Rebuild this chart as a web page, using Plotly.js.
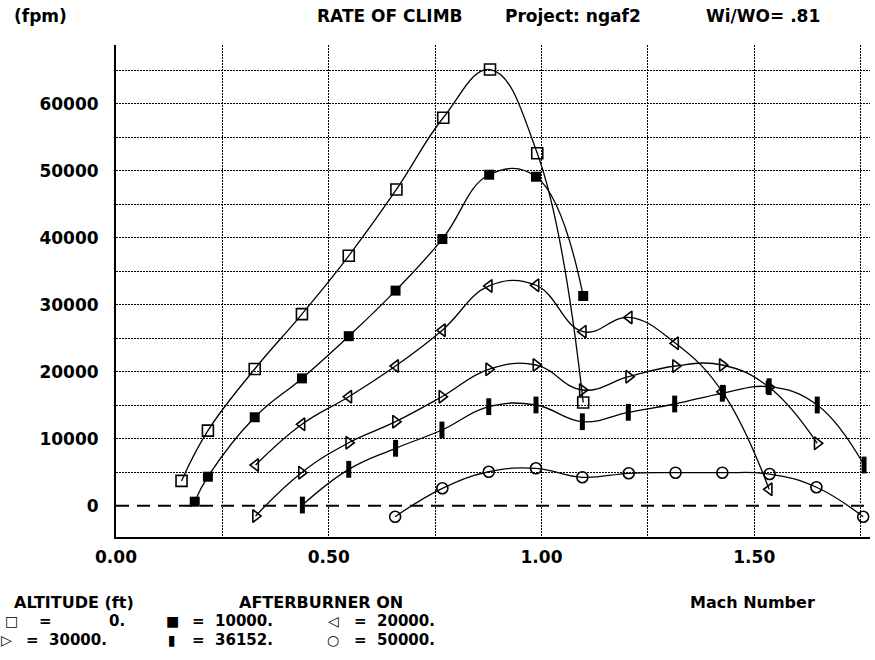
<!DOCTYPE html>
<html><head><meta charset="utf-8">
<script src="https://cdn.plot.ly/plotly-3.0.1.min.js"></script>
<style>html,body{margin:0;padding:0;background:#fff}#chart{width:875px;height:660px}</style>
</head><body><div id="chart"></div>
<script>
// ---- data (Mach number vs rate of climb, fpm) ----
const mach0     = [0.154, 0.216, 0.326, 0.437, 0.547, 0.659, 0.769, 0.879, 0.990, 1.098];
const roc0      = [3700, 11200, 20400, 28600, 37300, 47200, 57900, 65100, 52600, 15400];
const mach10000 = [0.185, 0.216, 0.326, 0.437, 0.547, 0.657, 0.767, 0.877, 0.987, 1.098];
const roc10000  = [600, 4330, 13200, 19000, 25300, 32100, 39800, 49400, 49100, 31300];
const mach20000 = [0.328, 0.437, 0.547, 0.657, 0.767, 0.877, 0.987, 1.098, 1.206, 1.315, 1.425, 1.535];
const roc20000  = [6070, 12150, 16270, 20850, 26200, 32800, 32900, 25970, 28100, 24240, 17000, 2450];
const mach30000 = [0.328, 0.436, 0.547, 0.657, 0.766, 0.876, 0.987, 1.096, 1.205, 1.315, 1.425, 1.535, 1.648];
const roc30000  = [-1540, 4930, 9400, 12540, 16270, 20360, 21000, 17270, 19250, 20850, 21000, 17670, 9310];
const mach36152 = [0.438, 0.547, 0.657, 0.766, 0.876, 0.987, 1.096, 1.204, 1.313, 1.425, 1.535, 1.648, 1.758];
const roc36152  = [100, 5430, 8570, 11300, 14780, 15030, 12540, 13940, 15180, 16780, 17760, 15030, 6070];
const mach50000 = [0.656, 0.767, 0.876, 0.987, 1.096, 1.205, 1.315, 1.425, 1.536, 1.646, 1.756];
const roc50000  = [-1640, 2600, 5070, 5580, 4240, 4840, 4930, 4930, 4730, 2750, -1640];

const xTickVals = [0, 0.25, 0.5, 0.75, 1.0, 1.25, 1.5, 1.75];
const xTickText = ['0.00', '', '0.50', '', '1.00', '', '1.50', ''];
const yTickVals = [0, 5000, 10000, 15000, 20000, 25000, 30000, 35000, 40000, 45000, 50000, 55000, 60000, 65000];
const yTickText = ['0', '', '10000', '', '20000', '', '30000', '', '40000', '', '50000', '', '60000', ''];

const legendSymbols = ['\u25A1', '\u25A0', '\u25C1', '\u25B7', '\u25AE', '\u25CB'];
const legendValues  = ['0.', '10000.', '20000.', '30000.', '36152.', '50000.'];

// ---- layout helpers ----
const L = 116, R = 870, T = 45, B = 537;
const W = R - L, H = B - T;
const px = x => (x - L) / W;
const py = y => (B - y) / H;
const FONT = 'DejaVu Sans';
function txt(s, x, y, anchor, size) {
  return {text: s, xref: 'paper', yref: 'paper', x: px(x), y: py(y),
    xanchor: anchor, yanchor: 'middle', showarrow: false,
    font: {family: FONT, size: size || 17, color: '#000', weight: 'bold'}};
}
const xRange = [0, 1.772];
const yRange = [-4670, 68760];

const styles = [
  {x: mach0, y: roc0, symbol: 'square-open', size: 11, lw: 1.6},
  {x: mach10000, y: roc10000, symbol: 'square', size: 10, lw: 0},
  {x: mach20000, y: roc20000, symbol: 'triangle-left-open', size: 11, lw: 1.6},
  {x: mach30000, y: roc30000, symbol: 'triangle-right-open', size: 11, lw: 1.6},
  {x: mach36152, y: roc36152, symbol: 'line-ns-open', size: 12, lw: 5},
  {x: mach50000, y: roc50000, symbol: 'circle-open', size: 11, lw: 1.6}
];

const traces = [{
  x: xRange, y: [0, 0], mode: 'lines', hoverinfo: 'skip', showlegend: false,
  line: {color: '#000', width: 2, dash: '13px,8px'}
}];
styles.forEach(s => traces.push({
  x: s.x, y: s.y, mode: 'lines+markers', showlegend: false, cliponaxis: false,
  line: {shape: 'spline', smoothing: 1.2, color: '#000', width: 1.3},
  marker: {symbol: s.symbol, size: s.size, color: '#000', line: {color: '#000', width: s.lw}}
}));

const ann = [
  txt('(fpm)', 12, 16, 'left'),
  txt('RATE OF CLIMB', 315, 16, 'left'),
  txt('Project: ngaf2', 503, 16, 'left'),
  txt('Wi/WO= .81', 704, 16, 'left'),
  txt('ALTITUDE (ft)', 12, 602, 'left', 16),
  txt('AFTERBURNER ON', 237, 602, 'left', 16),
  txt('Mach Number', 688, 602, 'left', 16)
];
const symX = [[11, 172, 333], [6, 172, 333]];
const eqX  = [[37, 190, 352], [24, 190, 352]];
const rowY = [621, 640];
legendSymbols.forEach((sym, i) => {
  const r = Math.floor(i / 3), c = i % 3;
  ann.push(txt(sym, symX[r][c], rowY[r], 'center', 14));
  if (i === 0) {
    ann.push(txt('=', eqX[r][c], rowY[r], 'left', 15));
    ann.push(txt(legendValues[i], 127, rowY[r], 'right', 15));
  } else {
    ann.push(txt('=  ' + legendValues[i], eqX[r][c], rowY[r], 'left', 15));
  }
});

const gridStyle = {showgrid: true, gridcolor: '#000', gridwidth: 1, griddash: '2px,1px'};
const layout = {
  width: 875, height: 660,
  margin: {l: L, r: 875 - R, t: T, b: 660 - B, pad: 0},
  paper_bgcolor: '#fff', plot_bgcolor: '#fff',
  showlegend: false,
  xaxis: Object.assign({
    range: xRange, tickmode: 'array', tickvals: xTickVals, ticktext: xTickText,
    ticks: '', showline: true, linecolor: '#000', linewidth: 2, zeroline: false,
    ticklabelstandoff: 4,
    tickfont: {family: FONT, size: 17, color: '#000', weight: 'bold'}
  }, gridStyle),
  yaxis: Object.assign({
    range: yRange, tickmode: 'array', tickvals: yTickVals, ticktext: yTickText,
    ticks: '', showline: true, linecolor: '#000', linewidth: 2,
    zeroline: true, zerolinecolor: '#fff', zerolinewidth: 3,
    ticklabelstandoff: 12,
    tickfont: {family: FONT, size: 17, color: '#000', weight: 'bold'}
  }, gridStyle),
  annotations: ann
};
Plotly.newPlot('chart', traces, layout, {staticPlot: true, displayModeBar: false});
</script></body></html>
